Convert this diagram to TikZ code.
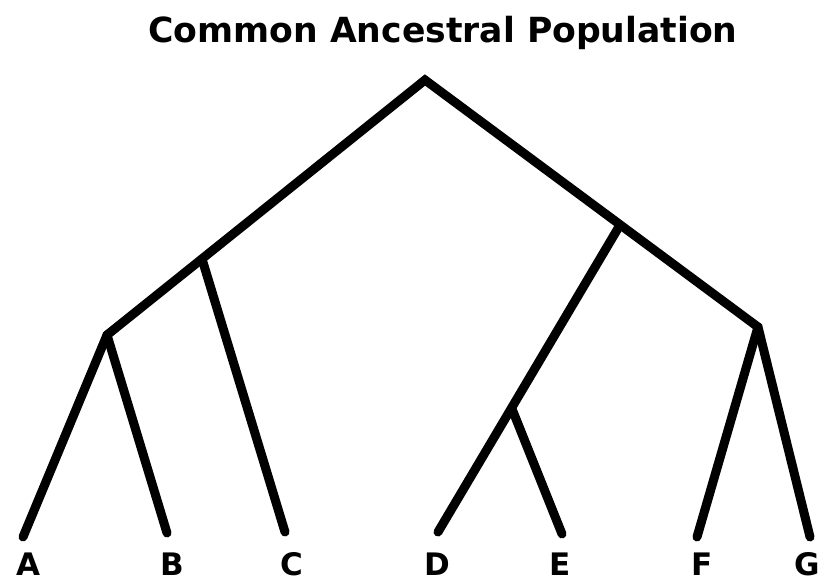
\documentclass[tikz,border=0pt]{standalone}
\usepackage{fontspec}
\setmainfont{DejaVu Sans}
\begin{document}
\begin{tikzpicture}[x=1pt,y=-1pt,
  branch/.style={line width=9pt,line cap=round,line join=miter},
  leaflabel/.style={font=\fontsize{31}{31}\selectfont\bfseries,inner sep=0pt,anchor=base},
  titlelabel/.style={font=\fontsize{34.6}{34.6}\selectfont\bfseries,inner sep=0pt,anchor=base}]
\useasboundingbox (0,0) rectangle (821,580);
\coordinate (root) at (425,80);
\coordinate (L) at (107,335);
\coordinate (Lm) at (202,259);
\coordinate (R) at (758,327);
\coordinate (Rm) at (620,225);
\coordinate (DE) at (512,409);
\coordinate (a) at (23,537);
\coordinate (b) at (167,533);
\coordinate (c) at (285,532);
\coordinate (d) at (438,532);
\coordinate (e) at (562,534);
\coordinate (f) at (697,537);
\coordinate (g) at (810,537);
\draw[branch] (a) -- (L) -- (root) -- (R) -- (g);
\draw[branch] (L) -- (b);
\draw[branch] (Lm) -- (c);
\draw[branch] (Rm) -- (d);
\draw[branch] (DE) -- (e);
\draw[branch] (R) -- (f);
\node[titlelabel] (title) at (443,43) {Common Ancestral Population};
\node[leaflabel] (A) at (28,575) {A};
\node[leaflabel] (B) at (172,575) {B};
\node[leaflabel] (C) at (292,575) {C};
\node[leaflabel] (D) at (437,575) {D};
\node[leaflabel] (E) at (560,575) {E};
\node[leaflabel] (F) at (702,575) {F};
\node[leaflabel] (G) at (807,575) {G};
\end{tikzpicture}
\end{document}
